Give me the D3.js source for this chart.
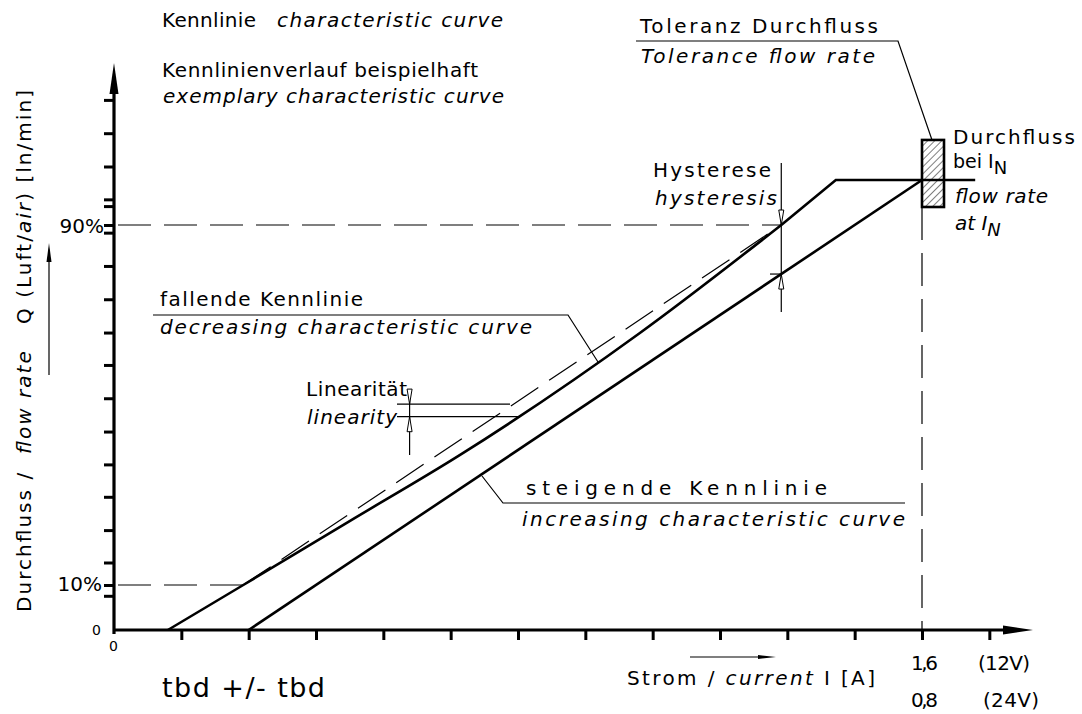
<!DOCTYPE html>
<html>
<head>
<meta charset="utf-8" />
<script src="https://cdn.jsdelivr.net/npm/d3@7"></script>
<title>Kennlinie</title>
<style>
  body { margin: 0; background: #fff; }
  svg { display: block; }
  text { font-family: "DejaVu Sans", sans-serif; font-size: 20px; fill: #000; white-space: pre; }
  .it { font-style: italic; }
</style>
</head>
<body>
<script>
    // x in grid divisions (12 divisions = I_N = 1,6 A @12V), y in % of flow rate
    var xTicks = [1, 2, 3, 4, 5, 6, 7, 8, 9, 10, 11, 12, 13];
    var yTicks = [7.6, 15.0, 22.2, 29.6, 36.8, 44.1, 51.5, 58.9, 66.1, 73.5, 80.9, 88.3, 95.7, 103.0, 110.4, 117.8];
    var yExtraTicks = [10, 90, 94.2];
    var refLevels = [10, 90];

    var fallendCurve = [[0.80, 0], [1.92, 10], [3.5, 24.2], [5.14, 38.9], [7.81, 66.0], [9.91, 90]];
    var fallendTop = [[9.91, 90], [10.72, 100], [12.79, 100]];
    var steigendLine = [[2.0, 0], [12, 100]];
    var idealLine = [[1.92, 10], [9.91, 90]];
    var nominalX = 12;
    var toleranceBand = [94.0, 108.9];
    var hysteresisAt = 9.91, hysteresisBand = [79.1, 90];
    var linearityAt = 4.39, linearityBand = [47.4, 50.2];

    var svgWidth = 1082, svgHeight = 714;
    var svg = d3.select("body").append("svg")
        .attr("width", svgWidth)
        .attr("height", svgHeight);

    var x = d3.scaleLinear().domain([0, 12]).range([114, 922]);
    var y = d3.scaleLinear().domain([0, 100]).range([630, 180]);

    var defs = svg.append("defs");
    var hatch = defs.append("pattern")
        .attr("id", "hatch")
        .attr("patternUnits", "userSpaceOnUse")
        .attr("width", 5).attr("height", 5)
        .attr("patternTransform", "rotate(45)");
    hatch.append("line")
        .attr("x1", 0).attr("y1", 0).attr("x2", 0).attr("y2", 5)
        .attr("stroke", "#000").attr("stroke-width", 1);

    var line = d3.line().x(function(d) { return x(d[0]); }).y(function(d) { return y(d[1]); });
    var smooth = d3.line().x(function(d) { return x(d[0]); }).y(function(d) { return y(d[1]); }).curve(d3.curveMonotoneX);

    // dashed reference lines 10% / 90%
    svg.selectAll(".refLine")
        .data(refLevels)
        .enter().append("line")
        .attr("x1", x(0) + 4)
        .attr("x2", function(d) { return d === 10 ? x(idealLine[0][0]) : x(hysteresisAt); })
        .attr("y1", function(d) { return y(d); })
        .attr("y2", function(d) { return y(d); })
        .attr("stroke", "#000").attr("stroke-width", 1.2)
        .attr("stroke-dasharray", "33,13");

    // ideal (linear) dashed line
    svg.append("path")
        .attr("d", line(idealLine))
        .attr("fill", "none").attr("stroke", "#000").attr("stroke-width", 1.2)
        .attr("stroke-dasharray", "33,13");

    // vertical dashed line at I_N
    svg.append("line")
        .attr("x1", x(nominalX)).attr("x2", x(nominalX))
        .attr("y1", y(toleranceBand[0])).attr("y2", y(0))
        .attr("stroke", "#000").attr("stroke-width", 1.2)
        .attr("stroke-dasharray", "33,13");

    // curves
    svg.append("path")
        .attr("d", smooth(fallendCurve))
        .attr("fill", "none").attr("stroke", "#000").attr("stroke-width", 2.6);
    svg.append("path")
        .attr("d", line(fallendTop))
        .attr("fill", "none").attr("stroke", "#000").attr("stroke-width", 2.6)
        .attr("stroke-linejoin", "miter");
    svg.append("path")
        .attr("d", line(steigendLine))
        .attr("fill", "none").attr("stroke", "#000").attr("stroke-width", 2.6);

    // tolerance box
    svg.append("rect")
        .attr("x", x(nominalX))
        .attr("y", y(toleranceBand[1]))
        .attr("width", 22)
        .attr("height", y(toleranceBand[0]) - y(toleranceBand[1]))
        .attr("fill", "url(#hatch)")
        .attr("stroke", "#000").attr("stroke-width", 2.6);

    // axes
    var xAxis = svg.append("g")
        .attr("transform", "translate(0," + y(0) + ")")
        .call(d3.axisBottom(x).tickValues(xTicks).tickSize(10).tickFormat(""));
    xAxis.select(".domain").remove();
    xAxis.selectAll(".tick line").attr("stroke-width", 3);

    var yAxis = svg.append("g")
        .attr("transform", "translate(" + x(0) + ",0)")
        .call(d3.axisLeft(y).tickValues(yTicks.concat(yExtraTicks)).tickSize(10).tickFormat(""));
    yAxis.select(".domain").remove();
    yAxis.selectAll(".tick line").attr("stroke-width", 3);

    svg.append("line")
        .attr("x1", x(0)).attr("x2", 1006)
        .attr("y1", y(0)).attr("y2", y(0))
        .attr("stroke", "#000").attr("stroke-width", 3.2);
    svg.append("path")
        .attr("d", "M1003," + (y(0) - 4.5) + "L1033," + y(0) + "L1003," + (y(0) + 4.5) + "Z")
        .attr("fill", "#000");
    svg.append("line")
        .attr("x1", x(0)).attr("x2", x(0))
        .attr("y1", y(0) + 4).attr("y2", 90)
        .attr("stroke", "#000").attr("stroke-width", 3.2);
    svg.append("path")
        .attr("d", "M" + (x(0) - 4.5) + ",94L" + x(0) + ",63L" + (x(0) + 4.5) + ",94Z")
        .attr("fill", "#000");

    // thin annotation lines
    function thin(pts, w) {
        svg.append("path")
            .attr("d", "M" + pts.map(function(p) { return p.join(","); }).join("L"))
            .attr("fill", "none").attr("stroke", "#000").attr("stroke-width", w || 1.2);
    }
    function arrowHead(px, py, dir) {
        // dir: 1 = pointing down, -1 = pointing up
        var len = 15, hw = 2.5;
        svg.append("path")
            .attr("d", "M" + px + "," + py + "L" + (px - hw) + "," + (py - dir * len) + "L" + (px + hw) + "," + (py - dir * len) + "Z")
            .attr("fill", "#fff").attr("stroke", "#000").attr("stroke-width", 1);
    }

    // Toleranz leader
    thin([[636, 41], [898, 41], [932, y(toleranceBand[1])]]);
    // fallende leader
    thin([[153, 315], [568, 315], [598, 362]]);
    // steigende leader
    thin([[482, 476], [503, 503], [905, 503]]);

    // hysteresis marker
    var hx = x(hysteresisAt);
    thin([[hx, 163], [hx, 312]]);
    thin([[770, y(hysteresisBand[0])], [hx, y(hysteresisBand[0])]]);
    arrowHead(hx, y(hysteresisBand[1]), 1);
    arrowHead(hx, y(hysteresisBand[0]), -1);

    // linearity marker
    var lx = x(linearityAt);
    thin([[lx, 392], [lx, 455]]);
    thin([[397, y(linearityBand[1])], [510, y(linearityBand[1])]]);
    thin([[397, y(linearityBand[0])], [520, y(linearityBand[0])]]);
    arrowHead(lx, y(linearityBand[1]), 1);
    arrowHead(lx, y(linearityBand[0]), -1);

    // y title arrow
    thin([[49, 375], [49, 250]]);
    svg.append("path").attr("d", "M46.5,262L49,243L51.5,262Z").attr("fill", "#000");
    // x title arrow
    thin([[690, 657], [763, 657]]);
    svg.append("path").attr("d", "M758,655L776,657L758,659Z").attr("fill", "#000");

    // texts
    function label(px, py, parts, opts) {
        opts = opts || {};
        var t = svg.append("text").attr("x", px).attr("y", py);
        if (opts.size) t.style("font-size", opts.size + "px");
        if (opts.anchor) t.attr("text-anchor", opts.anchor);
        if (opts.rotate) t.attr("transform", "rotate(" + opts.rotate + "," + px + "," + py + ")");
        parts.forEach(function(p) {
            var s = t.append("tspan").text(p.t);
            if (p.it) s.attr("class", "it");
            if (p.sub) s.attr("dy", 6).style("font-size", "18px");
        });
        if (opts.w) t.attr("textLength", opts.w).attr("lengthAdjust", "spacing");
        return t;
    }

    label(162, 27, [{t: "Kennlinie"}], {w: 94});
    label(277, 27, [{t: "characteristic curve", it: 1}], {w: 226});
    label(162, 77, [{t: "Kennlinienverlauf beispielhaft"}], {w: 316});
    label(163, 103, [{t: "exemplary characteristic curve", it: 1}], {w: 341});

    label(640, 33, [{t: "Toleranz Durchfluss"}], {w: 238});
    label(641, 63, [{t: "Tolerance flow rate", it: 1}], {w: 234});

    label(953, 144, [{t: "Durchfluss"}], {w: 122});
    label(953, 168, [{t: "bei I"}, {t: "N", sub: 1}], {size: 19});
    label(955, 203, [{t: "flow rate", it: 1}], {w: 93});
    label(955, 230, [{t: "at I", it: 1}, {t: "N", it: 1, sub: 1}]);

    label(653, 177, [{t: "Hysterese"}], {w: 118});
    label(655, 205, [{t: "hysteresis", it: 1}], {w: 122});

    label(160, 306, [{t: "fallende Kennlinie"}], {w: 203});
    label(160, 334, [{t: "decreasing characteristic curve", it: 1}], {w: 372});

    label(306, 396, [{t: "Linearität"}], {w: 101});
    label(307, 424, [{t: "linearity", it: 1}], {w: 90});

    label(526, 495, [{t: "steigende Kennlinie"}], {w: 301});
    label(522, 526, [{t: "increasing characteristic curve", it: 1}], {w: 383});

    label(104, 233, [{t: "90%"}], {anchor: "end"});
    label(102, 591, [{t: "10%"}], {anchor: "end"});
    label(101, 635, [{t: "0"}], {anchor: "end", size: 14});
    label(109, 651, [{t: "0"}], {size: 14});

    label(31, 612, [{t: "Durchfluss /  "}, {t: "flow rate", it: 1}, {t: "   Q (Luft/"}, {t: "air", it: 1}, {t: ") [ln/min]"}], {rotate: -90, w: 522});

    label(627, 685, [{t: "Strom / "}, {t: "current", it: 1}, {t: " I [A]"}], {w: 248});
    label(911, 670, [{t: "1,6"}], {w: 27});
    label(978, 670, [{t: "(12V)"}], {w: 52});
    label(911, 707, [{t: "0,8"}], {w: 27});
    label(983, 707, [{t: "(24V)"}], {w: 56});

    label(162, 697, [{t: "tbd +/- tbd"}], {size: 27, w: 163});
</script>
</body>
</html>
